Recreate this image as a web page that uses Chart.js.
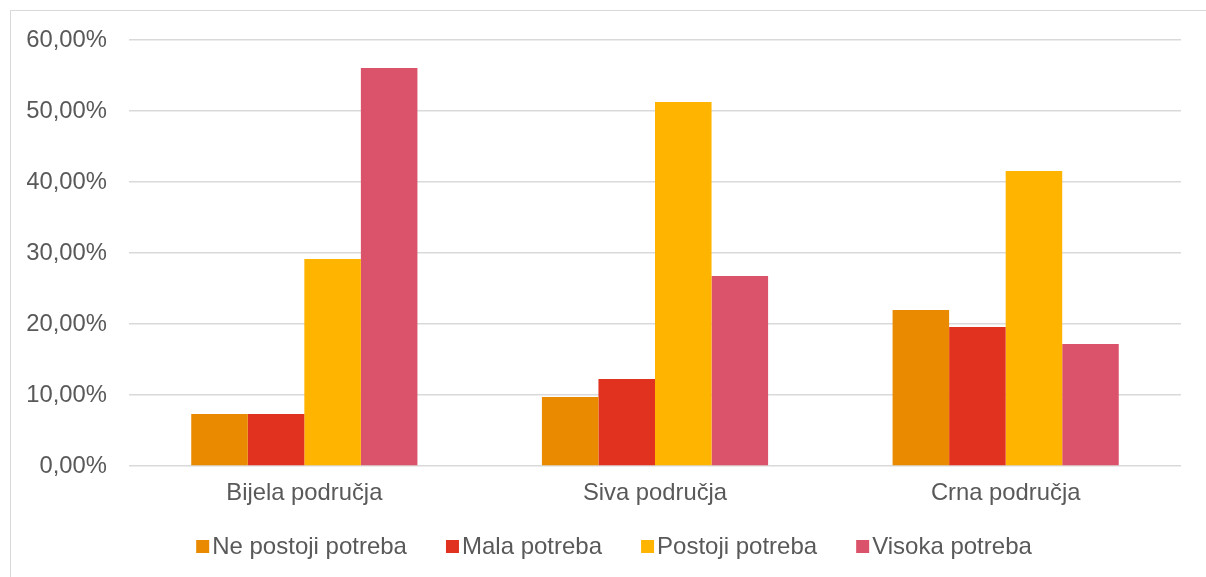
<!DOCTYPE html>
<html>
<head>
<meta charset="utf-8">
<script src="https://cdn.jsdelivr.net/npm/chart.js@4/dist/chart.umd.min.js"></script>
<style>
  html, body { margin: 0; padding: 0; background: #fff; overflow: hidden; }
  #wrap { position: absolute; left: 10px; top: 10px; width: 1200px; height: 570px; border: 1px solid #d9d9d9; }
  canvas { display: block; }
</style>
</head>
<body>
<div id="wrap"><canvas id="c" width="1200" height="570"></canvas></div>
<script>
const categories = ["Bijela područja", "Siva područja", "Crna područja"];
const seriesNames = ["Ne postoji potreba", "Mala potreba", "Postoji potreba", "Visoka potreba"];
const nePostoji = [7.32, 9.72, 21.97];
const mala = [7.32, 12.25, 19.58];
const postoji = [29.15, 51.27, 41.55];
const visoka = [56.06, 26.76, 17.18];
const colors = ["#EA8A00", "#E1321F", "#FFB500", "#DB536A"];

const FONT = "'Liberation Sans', Arial, sans-serif";
const FS = 23.8;
const TEXT = "#595959";

const legendPlugin = {
  id: 'customLegend',
  afterDraw(chart) {
    const ctx = chart.ctx;
    ctx.save();
    ctx.font = "24px " + FONT;
    ctx.textBaseline = 'middle';
    const box = 13, gapText = 3, gapItem = 39;
    const items = chart.data.datasets.map(d => ({ label: d.label, color: d.backgroundColor, w: ctx.measureText(d.label).width }));
    let total = 0;
    items.forEach((it, i) => { total += box + gapText + it.w + (i < items.length - 1 ? gapItem : 0); });
    let x = chart.width / 2 - total / 2 + 3;
    const cy = 535.5;
    items.forEach(it => {
      ctx.fillStyle = it.color;
      ctx.fillRect(x, cy - 6.5, box, box);
      ctx.fillStyle = TEXT;
      ctx.textAlign = 'left';
      ctx.fillText(it.label, x + box + gapText, cy + 1);
      x += box + gapText + it.w + gapItem;
    });
    ctx.restore();
  }
};

const seriesValues = [nePostoji, mala, postoji, visoka];

new Chart(document.getElementById('c'), {
  type: 'bar',
  data: {
    labels: categories,
    datasets: seriesNames.map((n, i) => ({
      label: n,
      data: seriesValues[i],
      backgroundColor: colors[i],
      borderWidth: 0,
      barPercentage: 1,
      categoryPercentage: 0.645
    }))
  },
  options: {
    responsive: false,
    animation: false,
    layout: { padding: { left: 16, right: 30, top: 29, bottom: 74 } },
    plugins: { legend: { display: false }, tooltip: { enabled: false } },
    scales: {
      x: {
        grid: { display: false, drawTicks: false },
        border: { display: false },
        ticks: { color: TEXT, font: { family: FONT, size: FS }, padding: 13, maxRotation: 0 },
        afterFit(scale) { scale.height = 41; }
      },
      y: {
        min: 0, max: 60,
        grid: { color: "#d9d9d9", lineWidth: 1.5, drawTicks: false },
        border: { display: false },
        ticks: {
          stepSize: 10,
          color: TEXT,
          font: { family: FONT, size: FS },
          padding: 22,
          callback: v => v.toFixed(2).replace('.', ',') + '%'
        },
        afterFit(scale) { scale.width = 102; scale.paddingTop = 0; scale.paddingBottom = 0; }
      }
    }
  },
  plugins: [legendPlugin]
});
</script>
</body>
</html>
